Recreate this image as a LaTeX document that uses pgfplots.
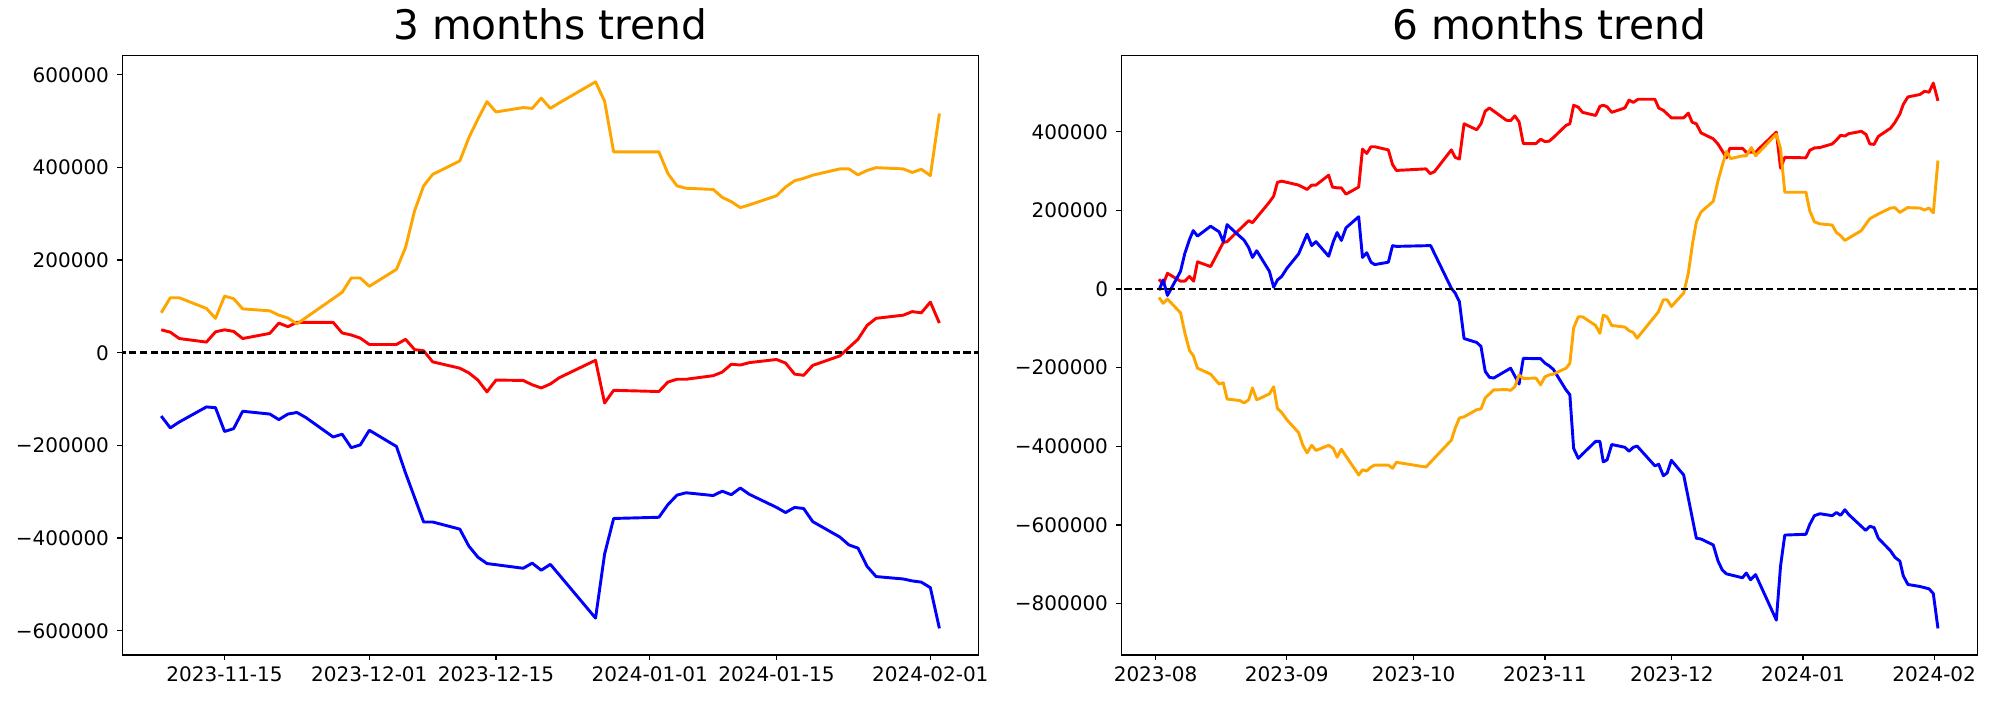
\documentclass[border=0pt]{standalone}
\usepackage{fontspec}
\setmainfont{DejaVu Sans}
\usepackage{pgfplots}
\pgfplotsset{compat=1.18}
\definecolor{mplorange}{HTML}{FFA500}
\definecolor{mplred}{HTML}{FF0000}
\definecolor{mplblue}{HTML}{0000FF}
\begin{document}
\begin{tikzpicture}
\useasboundingbox (0,0) rectangle (1440pt,504pt);
\pgfplotsset{
  every axis/.append style={
    scale only axis, width=616.32pt, height=431.35pt, anchor=south west,
    axis line style={line width=0.9pt, black},
    every tick/.style={line width=0.9pt, black},
    major tick length=3.6pt, tick align=outside,
    xtick pos=bottom, ytick pos=left,
    minor tick num=0, scaled y ticks=false, scaled x ticks=false,
    ticklabel style={font=\fontsize{14.4}{16}\selectfont, inner sep=0pt, outer sep=0pt},
    xticklabel style={anchor=north, yshift=-5pt},
    yticklabel style={anchor=east, xshift=-6pt},
    title style={font=\fontsize{29.3}{34}\selectfont, at={(0.5,1)}, anchor=base, yshift=6pt, inner sep=0pt},
    clip=true,
  },
  dat/.style={line width=2.1pt, line join=round, mark=none},
  zero/.style={black, line width=2pt, dash pattern=on 5.3pt off 2.4pt, mark=none},
}
% ---------------- 3 months ----------------
\begin{axis}[at={(88.06pt,32.47pt)},
  xmin=-11.3, xmax=83.3, ymin=-652200, ymax=641000,
  xtick={0,16,30,47,61,78},
  xticklabels={2023-11-15,2023-12-01,2023-12-15,2024-01-01,2024-01-15,2024-02-01},
  ytick={-600000,-400000,-200000,0,200000,400000,600000},
  yticklabels={−600000,−400000,−200000,0,200000,400000,600000},
  title={3 months trend}]
\addplot[dat, mplred] coordinates {
(-7,49500) (-6,44400) (-5,30700) (-2,23000) (-1,45200) (0,49500) (1,46100) (2,30700) (5,41800) (6,64000) (7,56300) (8,65700) (9,65700) (12,65700) (13,42700) (14,38400) (15,31600) (16,17900) (19,17900) (20,29000) (21,6800) (22,4300) (23,-19600) (26,-33300) (27,-43500) (28,-58900) (29,-84500) (30,-58900) (33,-59800) (34,-69100) (35,-76000) (36,-67400) (37,-53800) (41,-16200) (42,-108400) (43,-81100) (48,-83700) (49,-63200) (50,-57200) (51,-57200) (54,-49500) (55,-41800) (56,-24800) (57,-26500) (58,-21300) (61,-14500) (62,-22200) (63,-46100) (64,-48700) (65,-27300) (68,-6800) (69,11100) (70,29000) (71,58900) (72,74300) (75,81100) (76,88800) (77,86200) (78,109300) (79,64000)
};
\addplot[dat, mplblue] coordinates {
(-7,-136600) (-6,-162200) (-5,-149400) (-2,-116900) (-1,-118600) (0,-169900) (1,-163900) (2,-126300) (5,-132300) (6,-144300) (7,-132300) (8,-128900) (9,-140000) (12,-181800) (13,-175800) (14,-204900) (15,-198900) (16,-167300) (19,-202300) (20,-259500) (21,-312400) (22,-365300) (23,-365300) (26,-380700) (27,-417400) (28,-441300) (29,-455000) (30,-457500) (33,-465200) (34,-454100) (35,-469500) (36,-456700) (37,-479700) (41,-572800) (42,-434500) (43,-357700) (48,-355100) (49,-327800) (50,-307300) (51,-302200) (54,-308200) (55,-298800) (56,-306400) (57,-291900) (58,-305600) (61,-333800) (62,-344900) (63,-333800) (64,-336300) (65,-364500) (68,-397800) (69,-414800) (70,-421700) (71,-460900) (72,-483100) (75,-488300) (76,-492500) (77,-495100) (78,-507000) (79,-595000)
};
\addplot[dat, mplorange] coordinates {
(-7,86200) (-6,118700) (-5,118700) (-2,95600) (-1,74300) (0,122100) (1,116900) (2,94700) (5,90500) (6,81100) (7,75100) (8,62300) (9,76000) (12,116900) (13,130600) (14,161300) (15,161300) (16,143400) (19,180100) (20,227100) (21,306400) (22,360200) (23,385000) (26,414000) (27,464400) (28,504500) (29,542000) (30,519800) (33,529200) (34,527500) (35,549700) (36,527500) (37,539500) (41,584700) (42,542900) (43,433600) (48,433600) (49,386700) (50,360200) (51,355100) (54,352500) (55,335500) (56,326100) (57,313300) (58,319200) (61,338900) (62,357700) (63,371300) (64,376400) (65,383300) (68,396900) (69,396900) (70,384100) (71,393500) (72,399500) (75,396900) (76,389200) (77,396100) (78,382400) (79,516400)
};
\addplot[zero] coordinates {(-20,0) (100,0)};
\end{axis}
% ---------------- 6 months ----------------
\begin{axis}[at={(807.34pt,32.47pt)},
  xmin=-8.1, xmax=194.2, ymin=-930600, ymax=593500,
  xtick={0,31,61,92,122,153,184},
  xticklabels={2023-08,2023-09,2023-10,2023-11,2023-12,2024-01,2024-02},
  ytick={-800000,-600000,-400000,-200000,0,200000,400000},
  yticklabels={−800000,−600000,−400000,−200000,0,200000,400000},
  title={6 months trend}]
\addplot[dat, mplred] coordinates {
(0.8,25150) (1.8,12070) (2.8,40240) (5.9,20120) (6.9,20120) (8.0,32190) (9.0,20120) (9.9,69410) (13.0,57340) (16.0,118710) (16.9,120720) (19.0,142850) (22.0,174040) (22.9,169010) (26.9,221350) (27.9,236440) (28.8,271650) (29.8,274670) (33.8,264610) (35.8,253540) (36.9,264610) (37.9,264610) (40.9,289760) (41.8,259580) (42.9,257570) (43.9,257570) (45.0,241470) (48.0,259580) (48.9,356160) (49.9,345090) (50.9,362190) (51.8,362190) (55.0,354140) (56.0,316920) (56.9,301830) (63.9,305860) (64.9,293780) (65.9,298810) (69.9,354140) (70.8,335020) (71.8,331000) (72.9,420510) (75.9,405420) (76.9,420510) (77.9,452700) (78.9,460750) (82.9,429560) (83.9,428560) (84.9,440630) (85.9,425540) (86.9,370210) (89.9,370210) (91.0,381280) (92.0,375240) (93.0,376250) (94.0,385300) (97.0,416490) (97.9,420510) (98.8,467800) (99.9,462770) (100.9,449690) (104.0,441640) (105.0,464780) (105.8,467800) (106.7,463770) (107.8,449690) (110.9,460750) (111.9,480870) (112.9,474840) (114.0,482890) (118.0,482890) (118.9,460750) (120.0,454710) (121.9,435600) (124.8,435600) (125.9,447670) (126.8,424530) (127.8,420510) (128.9,397370) (131.8,382280) (132.9,369200) (133.9,352100) (134.9,333990) (135.7,358140) (138.7,358140) (139.6,348080) (141.8,348080) (142.8,359150) (146.7,399380) (147.7,307840) (148.7,335000) (153.7,334000) (154.6,353120) (155.7,359150) (157.0,360160) (159.9,369200) (160.9,379260) (161.9,391340) (162.9,389330) (163.8,395360) (166.8,401400) (167.9,393350) (168.8,369200) (169.8,368190) (170.8,388310) (173.7,409440) (174.7,423520) (175.9,445650) (176.7,469800) (177.8,488910) (180.6,494950) (181.7,503000) (182.8,500990) (183.8,524130) (184.9,478860)
};
\addplot[dat, mplblue] coordinates {
(0.8,-3020) (1.8,23140) (2.8,-16100) (5.9,45270) (6.9,90540) (8.0,125750) (8.9,148890) (9.9,134800) (13.0,159950) (15.0,145870) (16.0,120720) (16.9,163980) (19.0,142850) (20.9,124740) (22.0,105630) (22.9,80480) (23.9,97580) (26.9,45270) (27.9,5030) (28.8,23140) (29.8,32190) (31.0,52310) (33.8,89530) (35.8,139830) (36.9,110660) (37.9,120720) (40.9,83500) (42.0,120720) (42.9,143860) (43.9,123740) (45.0,155930) (48.0,184100) (48.9,80480) (49.9,92550) (50.9,68410) (51.8,62370) (55.0,68410) (56.0,110660) (56.9,108650) (65.0,110660) (69.9,2010) (70.8,-10060) (71.8,-32190) (72.9,-125750) (75.9,-135810) (76.9,-145870) (77.9,-209250) (78.9,-224340) (79.9,-226350) (83.9,-201200) (85.9,-241440) (86.9,-176050) (89.9,-177060) (91.0,-177060) (92.0,-188120) (93.0,-195160) (94.0,-204220) (97.0,-256530) (97.9,-268600) (98.8,-405420) (99.9,-430570) (100.9,-419500) (104.0,-387310) (105.0,-387310) (105.8,-439620) (106.7,-434590) (107.8,-395360) (110.9,-402400) (111.9,-412460) (112.9,-402400) (113.8,-399380) (118.0,-449680) (118.9,-445660) (120.0,-474830) (120.9,-467790) (121.9,-435600) (124.8,-472820) (127.8,-633780) (128.9,-635790) (131.8,-650880) (132.9,-691120) (133.9,-714260) (134.9,-724320) (138.7,-734380) (139.6,-722310) (140.6,-739410) (141.8,-726330) (146.7,-842020) (147.7,-704200) (148.7,-625730) (153.7,-623720) (154.6,-598570) (155.7,-576440) (157.0,-571410) (159.9,-576440) (160.9,-568390) (161.9,-575430) (162.9,-561350) (163.8,-573420) (167.8,-613660) (168.8,-603600) (169.8,-606620) (170.8,-633780) (173.7,-665970) (174.7,-682070) (175.9,-692130) (176.7,-729350) (177.8,-751480) (180.6,-756510) (182.8,-762550) (183.8,-774620) (184.9,-863150)
};
\addplot[dat, mplorange] coordinates {
(0.8,-21130) (1.8,-36220) (2.8,-25150) (5.9,-60360) (6.9,-110660) (8.0,-155930) (8.9,-169010) (9.9,-201200) (13.0,-216290) (15.0,-241440) (16.0,-238420) (16.9,-279670) (20.0,-283690) (20.9,-289730) (22.0,-281680) (22.9,-251500) (23.9,-281680) (26.9,-266590) (27.9,-248480) (28.8,-303810) (29.8,-313870) (31.0,-331980) (33.8,-365180) (34.8,-397370) (35.8,-416480) (36.9,-397370) (37.9,-410450) (40.9,-397370) (42.0,-405420) (42.9,-427550) (43.9,-407430) (48.0,-472820) (48.9,-459740) (49.9,-462760) (50.9,-452700) (51.8,-447670) (55.0,-447670) (56.0,-455720) (56.9,-440630) (63.9,-452700) (69.9,-384290) (70.8,-354110) (71.8,-327960) (72.9,-324940) (75.9,-306830) (76.9,-304820) (77.9,-276650) (79.9,-256530) (82.9,-255520) (83.9,-257540) (84.9,-248480) (85.9,-218300) (86.9,-227360) (89.9,-226350) (91.0,-243450) (92.0,-223330) (93.0,-218300) (94.0,-216290) (97.0,-201200) (97.9,-189130) (98.8,-98590) (99.9,-70420) (100.9,-70420) (104.0,-92550) (105.0,-112670) (105.8,-66400) (106.7,-70420) (107.8,-92550) (110.9,-96580) (111.9,-105630) (112.9,-110660) (113.8,-124740) (118.8,-58350) (120.0,-27160) (120.9,-27160) (121.9,-44260) (124.8,-10060) (125.9,40240) (126.9,115690) (127.8,171020) (128.9,196170) (131.8,223330) (132.9,274640) (133.9,313870) (134.9,350090) (135.9,331980) (138.7,339020) (139.6,339020) (140.8,360160) (141.8,339020) (146.7,394350) (147.7,357130) (148.7,246470) (153.7,246470) (154.6,199190) (155.7,171020) (157.0,165990) (159.9,162970) (160.9,143860) (161.9,135810) (162.9,123740) (166.8,148890) (167.9,165990) (168.8,179070) (170.8,191140) (173.7,206230) (174.7,207240) (175.9,195160) (177.7,207240) (180.6,206230) (181.7,201200) (182.8,206230) (183.8,194160) (184.9,326950)
};
\addplot[zero] coordinates {(-20,0) (200,0)};
\end{axis}
\end{tikzpicture}
\end{document}
